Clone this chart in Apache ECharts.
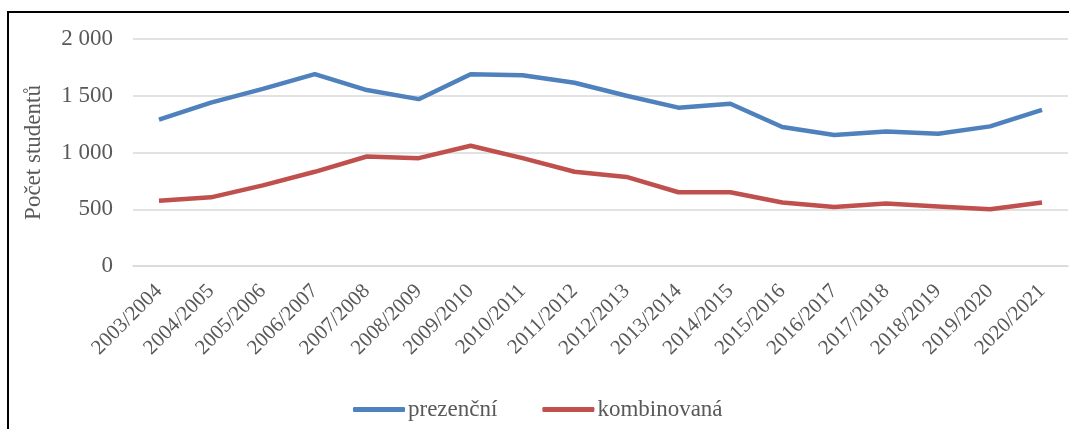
<!DOCTYPE html>
<html><head><meta charset="utf-8">
<script src="https://cdn.jsdelivr.net/npm/echarts@6/dist/echarts.min.js"></script>
<style>
html,body{margin:0;padding:0;background:#fff;}
#frame{position:absolute;left:7px;top:11px;width:1100px;height:430px;border-top:2px solid #000;border-left:2px solid #000;}
#c{position:absolute;left:0;top:0;width:1069px;height:429px;}
</style></head>
<body>
<div id="frame"></div>
<div id="c"></div>
<script>
const categories = ["2003/2004","2004/2005","2005/2006","2006/2007","2007/2008","2008/2009","2009/2010","2010/2011","2011/2012","2012/2013","2013/2014","2014/2015","2015/2016","2016/2017","2017/2018","2018/2019","2019/2020","2020/2021"];
const prezencni = [1290,1440,1560,1690,1550,1470,1690,1680,1615,1500,1395,1430,1225,1155,1185,1165,1230,1375];
const kombinovana = [575,605,710,830,965,950,1060,950,830,785,650,650,560,520,550,525,500,560];
const seriesNames = ["prezenční","kombinovaná"];
const yAxisTitle = "Počet studentů";

const font = "Liberation Serif, Times New Roman, serif";
const textColor = "#595959";
const chart = echarts.init(document.getElementById('c'));
chart.setOption({
  animation:false,
  grid:{left:133,right:1,top:39,bottom:163},
  legend:{
    bottom:3, left:348,
    itemWidth:52, itemHeight:5, itemGap:45,
    icon:'roundRect',
    textStyle:{fontFamily:font,fontSize:23,color:textColor,padding:[0,0,0,-2]},
    data:seriesNames
  },
  xAxis:{
    type:'category', data:categories, boundaryGap:true,
    axisLine:{show:true,lineStyle:{color:'#d9d9d9',width:1.5}},
    axisTick:{show:false},
    axisLabel:{rotate:45,interval:0,margin:22,fontFamily:font,fontSize:21,color:textColor}
  },
  yAxis:{
    type:'value', min:0, max:2000, interval:500,
    name:yAxisTitle, nameLocation:'middle', nameGap:88, nameRotate:90,
    nameTextStyle:{fontFamily:font,fontSize:23,color:textColor},
    axisLine:{show:false}, axisTick:{show:false},
    splitLine:{lineStyle:{color:'#d9d9d9',width:1.5}},
    axisLabel:{margin:20,fontFamily:font,fontSize:23,color:textColor,
      formatter:v=>String(v).replace(/\B(?=(\d{3})+(?!\d))/g,' ')}
  },
  series:[
    {name:seriesNames[0],type:'line',data:prezencni,symbol:'none',lineStyle:{color:'#4f81bd',width:4.5},itemStyle:{color:'#4f81bd'}},
    {name:seriesNames[1],type:'line',data:kombinovana,symbol:'none',lineStyle:{color:'#c0504d',width:4.5},itemStyle:{color:'#c0504d'}}
  ]
});
</script>
</body></html>
